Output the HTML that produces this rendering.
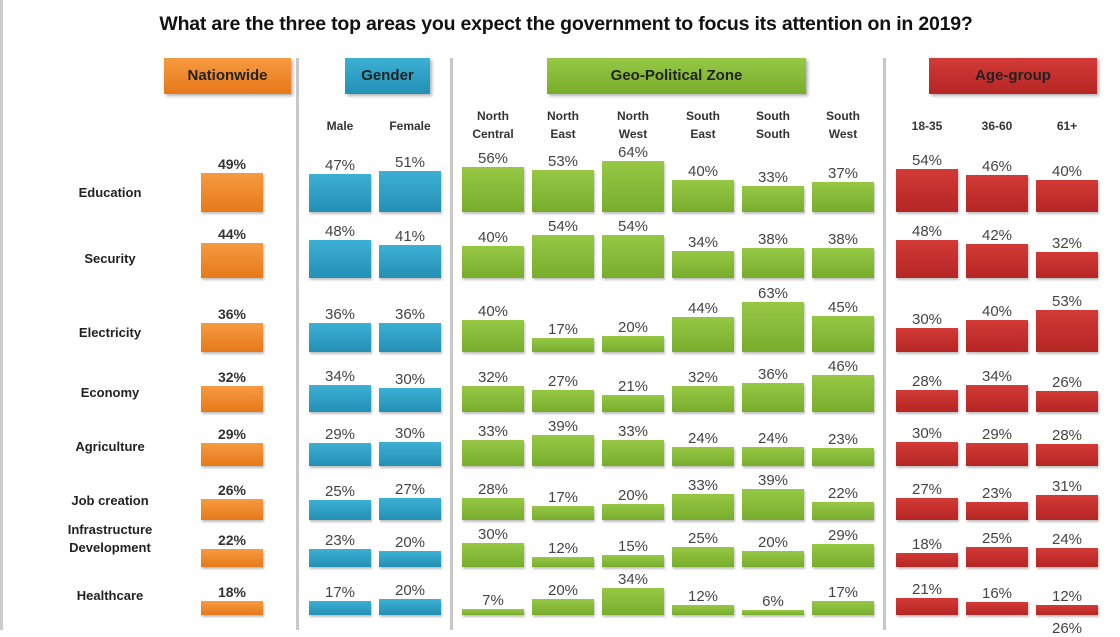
<!DOCTYPE html>
<html><head><meta charset="utf-8"><style>
body{margin:0;width:1120px;height:630px;overflow:hidden;background:#fff;position:relative;font-family:"Liberation Sans",sans-serif;}
.a{position:absolute}
.t{position:absolute;left:0;width:1132px;top:13px;text-align:center;font-weight:bold;font-size:19.5px;color:#111;letter-spacing:-0.2px}
.hb{position:absolute;top:58px;height:36px;line-height:36px;text-align:center;font-weight:bold;font-size:15px;color:#222;box-shadow:2px 2px 3px rgba(0,0,0,.3)}
.sep{position:absolute;top:58px;width:3px;height:572px;background:#c8c8c8}
.sub{position:absolute;width:62px;text-align:center;font-weight:bold;font-size:12px;color:#333;line-height:18px}
.lab{position:absolute;width:160px;left:30px;text-align:center;font-weight:bold;font-size:13px;color:#222;line-height:18px}
.bar{position:absolute;width:62px;box-shadow:1px 2px 2px rgba(0,0,0,.25)}
.v{position:absolute;width:62px;text-align:center;font-size:15px;color:#444}
.o{background:linear-gradient(#f79a40,#e6791a)}
.b{background:linear-gradient(#3cb0d4,#2390b4)}
.g{background:linear-gradient(#96c845,#78ad2c)}
.r{background:linear-gradient(#d23a36,#b52624)}
</style></head><body>
<div class="a" style="left:0;top:0;width:3px;height:630px;background:#ccc"></div>
<div class="t">What are the three top areas you expect the government to focus its attention on in 2019?</div>
<div class="hb o" style="left:164px;width:127px">Nationwide</div>
<div class="hb b" style="left:345px;width:85px">Gender</div>
<div class="hb g" style="left:547px;width:259px">Geo-Political Zone</div>
<div class="hb r" style="left:929px;width:168px">Age-group</div>
<div class="sep" style="left:296px"></div>
<div class="sep" style="left:450px"></div>
<div class="sep" style="left:883px"></div>
<div id="c"></div>
<script>
var xs=[201,309,379,462,532,602,672,742,812,896,966,1036];
var cls=['o','b','b','g','g','g','g','g','g','r','r','r'];
var subs=[null,'Male','Female','North<br>Central','North<br>East','North<br>West','South<br>East','South<br>South','South<br>West','18-35','36-60','61+'];
var rows=[['Education',212,[49,47,51,56,53,64,40,33,37,54,46,40]],
['Security',278,[44,48,41,40,54,54,34,38,38,48,42,32]],
['Electricity',352,[36,36,36,40,17,20,44,63,45,30,40,53]],
['Economy',412,[32,34,30,32,27,21,32,36,46,28,34,26]],
['Agriculture',466,[29,29,30,33,39,33,24,24,23,30,29,28]],
['Job creation',520,[26,25,27,28,17,20,33,39,22,27,23,31]],
['Infrastructure<br>Development',567,[22,23,20,30,12,15,25,20,29,18,25,24]],
['Healthcare',615,[18,17,20,7,20,34,12,6,17,21,16,12]]];
var h='';
for(var i=1;i<12;i++){var two=subs[i].indexOf('<br>')>0;h+='<div class="sub" style="left:'+xs[i]+'px;top:'+(two?107:117)+'px">'+subs[i]+'</div>';}
rows.forEach(function(r){
 var b=r[1];var two=r[0].indexOf('<br>')>0;
 h+='<div class="lab" style="top:'+(b-(two?46:28))+'px">'+r[0]+'</div>';
 r[2].forEach(function(v,i){var hh=Math.round(v*0.8);
  h+='<div class="bar '+cls[i]+'" style="left:'+xs[i]+'px;top:'+(b-hh)+'px;height:'+hh+'px"></div>';
  h+='<div class="v" style="left:'+xs[i]+'px;top:'+(b-hh-17)+'px;'+(i==0?'font-weight:bold;color:#333;font-size:14px':'')+'">'+v+'%</div>';});
});
h+='<div class="v" style="left:1036px;top:620px">26%</div>';
document.getElementById('c').innerHTML=h;
</script>
</body></html>
